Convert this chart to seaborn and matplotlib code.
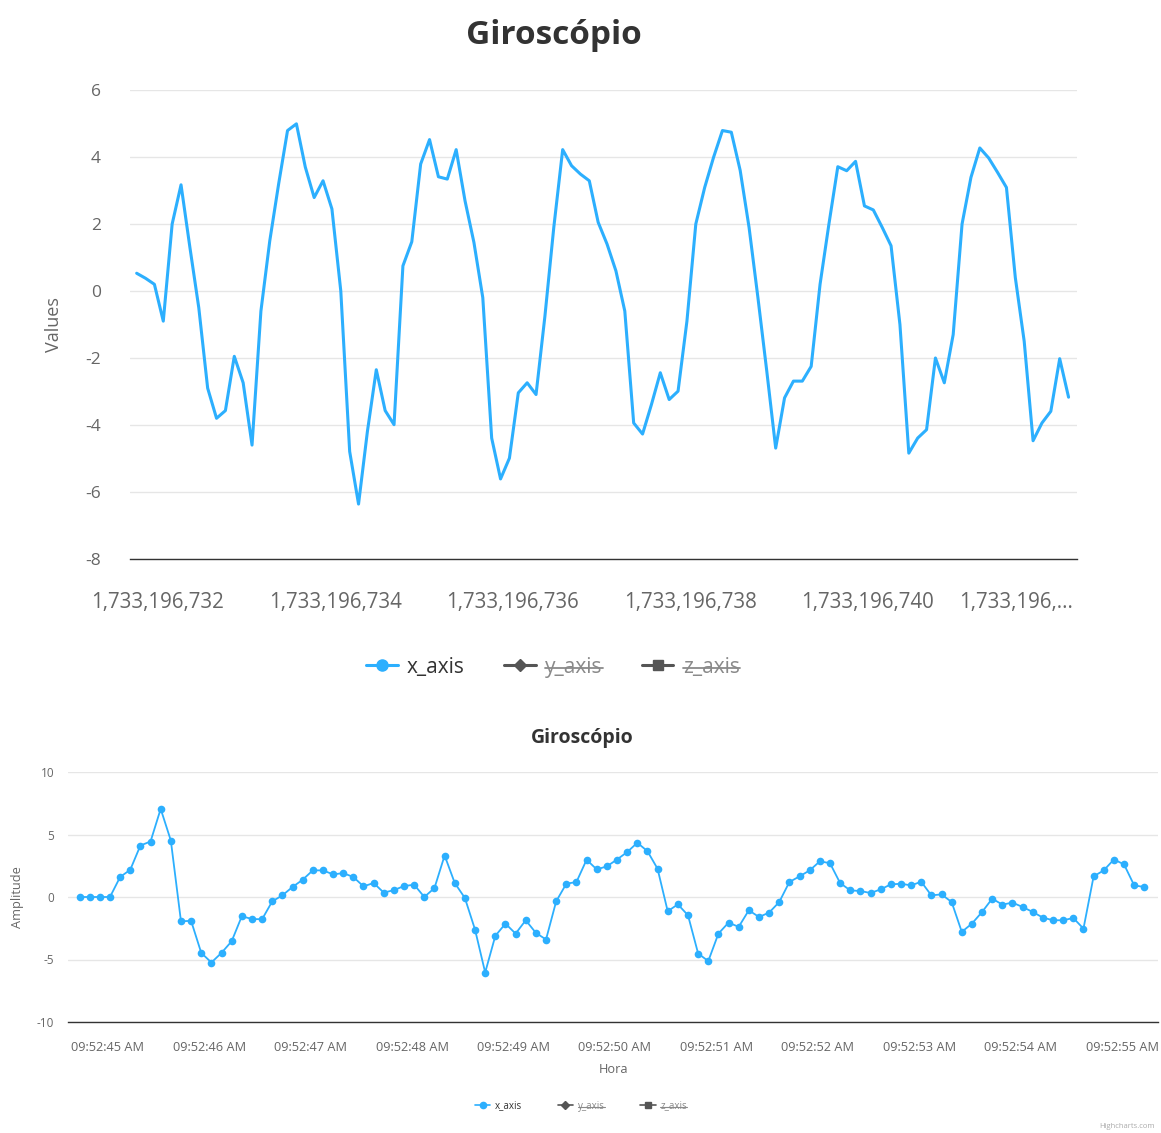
import numpy as np
import pandas as pd
import matplotlib
matplotlib.use("Agg")
import matplotlib.pyplot as plt
import matplotlib.dates as mdates
import matplotlib.transforms as mtransforms
from matplotlib.lines import Line2D
import seaborn as sns

# ---------------- data ----------------
series_names = ["x_axis", "y_axis", "z_axis"]
sample_period = 0.1  # seconds between gyroscope samples

# upper chart: epoch-second timestamps
top_start = 1733196731.76
top_x_axis = [
    0.53, 0.38, 0.2, -0.9, 2.0, 3.17, 1.3, -0.5, -2.9, -3.8,
    -3.57, -1.95, -2.74, -4.6, -0.6, 1.5, 3.2, 4.79, 4.99, 3.7,
    2.79, 3.29, 2.45, 0.0, -4.79, -6.36, -4.19, -2.35, -3.57, -3.99,
    0.75, 1.47, 3.79, 4.52, 3.41, 3.34, 4.22, 2.69, 1.45, -0.2,
    -4.39, -5.61, -4.99, -3.04, -2.74, -3.09, -0.75, 1.9, 4.22, 3.74,
    3.49, 3.29, 2.05, 1.4, 0.6, -0.6, -3.94, -4.27, -3.39, -2.44,
    -3.24, -2.99, -0.9, 2.0, 3.09, 3.99, 4.79, 4.74, 3.6, 1.9,
    -0.2, -2.4, -4.69, -3.19, -2.69, -2.69, -2.25, 0.2, 2.0, 3.71,
    3.59, 3.87, 2.54, 2.42, 1.9, 1.35, -1.0, -4.84, -4.39, -4.14,
    -2.0, -2.74, -1.3, 2.0, 3.39, 4.27, 3.97, 3.54, 3.09, 0.4,
    -1.5, -4.47, -3.94, -3.59, -2.02, -3.17,
]
top_ticks = [1733196732, 1733196734, 1733196736, 1733196738, 1733196740, 1733196742]
top_tick_labels = ["1,733,196,732", "1,733,196,734", "1,733,196,736",
                   "1,733,196,738", "1,733,196,740", "1,733,196,..."]
top_yticks = [-8, -6, -4, -2, 0, 2, 4, 6]

# lower chart: clock time
bottom_start = "2024-12-03 09:52:44.72"
bottom_x_axis = [
    0.0, 0.0, 0.0, 0.0, 1.6, 2.18, 4.12, 4.44, 7.05, 4.52,
    -1.94, -1.91, -4.47, -5.24, -4.47, -3.54, -1.54, -1.76, -1.78, -0.35,
    0.13, 0.8, 1.38, 2.13, 2.13, 1.81, 1.91, 1.6, 0.85, 1.12,
    0.35, 0.55, 0.88, 0.98, 0.0, 0.72, 3.32, 1.12, -0.08, -2.61,
    -6.04, -3.11, -2.13, -2.93, -1.86, -2.87, -3.4, -0.35, 1.06, 1.2,
    2.98, 2.21, 2.45, 3.0, 3.59, 4.34, 3.67, 2.26, -1.14, -0.59,
    -1.46, -4.52, -5.13, -2.93, -2.05, -2.39, -1.06, -1.6, -1.25, -0.4,
    1.2, 1.65, 2.13, 2.85, 2.71, 1.12, 0.53, 0.48, 0.32, 0.61,
    1.01, 1.06, 0.93, 1.22, 0.13, 0.21, -0.4, -2.79, -2.13, -1.2,
    -0.13, -0.61, -0.45, -0.8, -1.2, -1.65, -1.86, -1.86, -1.68, -2.53,
    1.65, 2.13, 3.0, 2.61, 0.93, 0.8,
]
bottom_yticks = [-10, -5, 0, 5, 10]

# ---------------- frames ----------------
top_df = pd.DataFrame({
    "t": top_start + sample_period * np.arange(len(top_x_axis)),
    "value": top_x_axis,
})
bottom_df = pd.DataFrame({
    "t": pd.date_range(bottom_start, periods=len(bottom_x_axis),
                       freq=pd.Timedelta(seconds=sample_period)),
    "value": bottom_x_axis,
})

# ---------------- style ----------------
sns.set_theme(style="white")
plt.rcParams["font.family"] = ["Open Sans", "DejaVu Sans"]
plt.rcParams["axes.unicode_minus"] = False

BLUE = "#2caffe"
GRID = "#e6e6e6"
AXIS = "#333333"
LABEL = "#666666"
TITLE = "#333333"
HIDDEN_MARK = "#555555"
HIDDEN_TEXT = "#8a8a8a"

W, H = 1161, 1133
fig = plt.figure(figsize=(W / 100, H / 100), dpi=100)


def px_axes(left, top, right, bottom):
    return fig.add_axes([left / W, 1 - bottom / H, (right - left) / W, (bottom - top) / H])


def style_axes(ax, xsize, ysize, tick_len, xpad, ypad):
    for side in ("top", "right", "left"):
        ax.spines[side].set_visible(False)
    ax.spines["bottom"].set_color(AXIS)
    ax.spines["bottom"].set_linewidth(1.0)
    ax.grid(axis="y", color=GRID, linewidth=1.0)
    ax.grid(axis="x", visible=False)
    ax.set_axisbelow(True)
    ax.tick_params(axis="x", direction="out", length=tick_len, width=1.0,
                   color=AXIS, labelsize=xsize, labelcolor=LABEL, pad=xpad)
    ax.tick_params(axis="y", length=0, labelsize=ysize, labelcolor=LABEL, pad=ypad)


# ---------- upper chart ----------
ax1 = px_axes(130, 90, 1077, 559)
sns.lineplot(data=top_df, x="t", y="value", ax=ax1, color=BLUE,
             linewidth=2.2, legend=False)
ax1.set_xlim(top_start - 0.075, top_start + 10.595)
ax1.set_ylim(-8, 6)
ax1.set_yticks(top_yticks)
ax1.set_xticks(top_ticks, top_tick_labels)
style_axes(ax1, 14.8, 12.5, 9, 15, 21)
# the clipped last label is pulled back inside the plot width
last = ax1.get_xticklabels()[-1]
last.set_transform(last.get_transform() +
                   mtransforms.ScaledTranslation(-0.29, 0, fig.dpi_scale_trans))
ax1.set_xlabel("")
ax1.set_ylabel("Values", fontsize=13, color=LABEL, labelpad=16)
fig.text(554 / W, 1 - 35 / H, "Giroscópio", fontsize=24, fontweight="bold",
         color=TITLE, ha="center", va="center")

# ---------- lower chart ----------
ax2 = px_axes(68, 772, 1158, 1022)
sns.lineplot(data=bottom_df, x="t", y="value", ax=ax2, color=BLUE,
             linewidth=1.3, marker="o", markersize=5.5, markeredgewidth=0,
             legend=False)
t0 = pd.Timestamp("2024-12-03 09:52:45")
ax2.set_xlim(t0 - pd.Timedelta(seconds=0.394), t0 + pd.Timedelta(seconds=10.355))
ax2.set_ylim(-10, 10)
ax2.set_yticks(bottom_yticks)
ax2.xaxis.set_major_locator(mdates.SecondLocator())
ax2.xaxis.set_major_formatter(mdates.DateFormatter("%I:%M:%S %p"))
style_axes(ax2, 9.2, 8.5, 7, 7, 10)
ax2.set_xlabel("Hora", fontsize=9.2, color=LABEL, labelpad=6)
ax2.set_ylabel("Amplitude", fontsize=9.2, color=LABEL, labelpad=9)
fig.text(582 / W, 1 - 738 / H, "Giroscópio", fontsize=14, fontweight="bold",
         color=TITLE, ha="center", va="center")


# ---------- legends ----------
def legend_handles(msize, lw):
    return [
        Line2D([], [], color=BLUE, marker="o", markersize=msize, linewidth=lw),
        Line2D([], [], color=HIDDEN_MARK, marker="D", markersize=msize * 0.8, linewidth=lw),
        Line2D([], [], color=HIDDEN_MARK, marker="s", markersize=msize * 0.85, linewidth=lw),
    ]


leg1 = fig.legend(legend_handles(8, 2.2), series_names, loc="center",
                  bbox_to_anchor=(553 / W, 1 - 667 / H), ncol=3, frameon=False,
                  fontsize=15, handlelength=1.5, handletextpad=0.45,
                  columnspacing=1.9)
leg2 = fig.legend(legend_handles(4.5, 1.2), series_names, loc="center",
                  bbox_to_anchor=(581 / W, 1 - 1106 / H), ncol=3, frameon=False,
                  fontsize=7, handlelength=1.6, handletextpad=0.5,
                  columnspacing=3.6)
for leg in (leg1, leg2):
    texts = leg.get_texts()
    texts[0].set_color(TITLE)
    for t in texts[1:]:
        t.set_color(HIDDEN_TEXT)

fig.text(1155 / W, 1 - 1127 / H, "Highcharts.com", fontsize=5.5, color="#aaaaaa",
         ha="right", va="center")

# strike through the hidden series names
fig.canvas.draw()
renderer = fig.canvas.get_renderer()
inv = fig.transFigure.inverted()
for leg, lw in ((leg1, 1.3), (leg2, 0.8)):
    for t in leg.get_texts()[1:]:
        bb = t.get_window_extent(renderer)
        (x0, y0), (x1, y1) = inv.transform([(bb.x0, bb.y0), (bb.x1, bb.y1)])
        ym = y0 + (y1 - y0) * 0.45
        fig.add_artist(Line2D([x0, x1], [ym, ym], transform=fig.transFigure,
                              color=HIDDEN_TEXT, linewidth=lw))

fig.savefig("out.png", dpi=100, facecolor="white")
